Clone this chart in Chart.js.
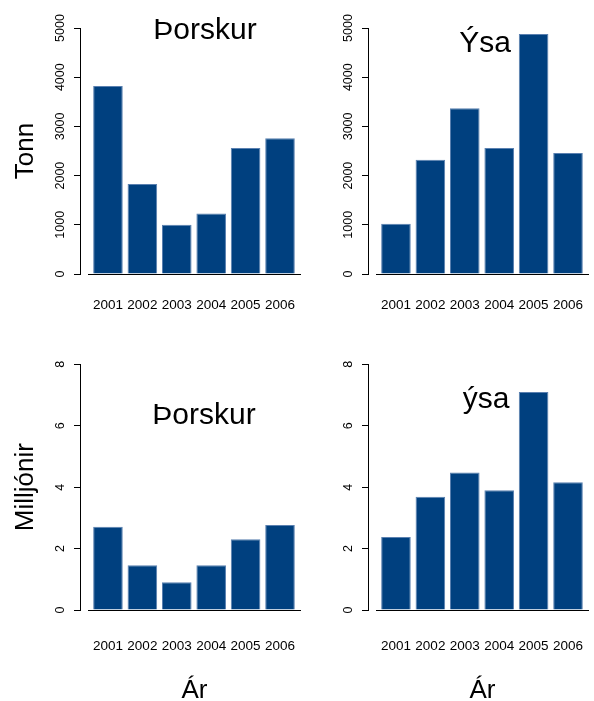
<!DOCTYPE html>
<html>
<head>
<meta charset="utf-8">
<script src="https://cdn.jsdelivr.net/npm/chart.js@4.4.1/dist/chart.umd.min.js"></script>
<style>
  body { margin: 0; width: 594px; height: 701px; overflow: hidden; background: #fff;
         font-family: "Liberation Sans", Arial, sans-serif; }
  canvas { position: absolute; }
  .fyrirsogn { position: absolute; font-size: 30px; line-height: 30px; color: #000;
               transform: translateX(-50%); white-space: nowrap; }
</style>
</head>
<body>
<canvas id="torskurTonn" width="301" height="350" style="left:0;top:0"></canvas>
<canvas id="ysaTonn" width="301" height="350" style="left:288px;top:0"></canvas>
<canvas id="torskurMillj" width="301" height="351" style="left:0;top:350px"></canvas>
<canvas id="ysaMillj" width="301" height="351" style="left:288px;top:350px"></canvas>

<div class="fyrirsogn" style="left:205px;top:14px">Þorskur</div>
<div class="fyrirsogn" style="left:485px;top:27px">Ýsa</div>
<div class="fyrirsogn" style="left:204px;top:399px">Þorskur</div>
<div class="fyrirsogn" style="left:486px;top:383px">ýsa</div>

<script>
// gögn
const ar = [2001, 2002, 2003, 2004, 2005, 2006];
const torskurTonn = [3820, 1830, 1000, 1230, 2560, 2760];
const ysaTonn = [1020, 2320, 3370, 2560, 4880, 2460];
const torskurMillj = [2.71, 1.46, 0.90, 1.46, 2.30, 2.77];
const ysaMillj = [2.38, 3.69, 4.48, 3.90, 7.10, 4.16];
const tonnTicks = [0, 1000, 2000, 3000, 4000, 5000];
const milljTicks = [0, 2, 4, 6, 8];

Chart.defaults.font.family = '"Liberation Sans", Arial, sans-serif';
Chart.defaults.color = "#000";

function teikna(id, gildi, yTicks, s) {
    const ctx = document.getElementById(id).getContext("2d");
    return new Chart(ctx, {
        type: "bar",
        data: {
            datasets: [{
                data: ar.map((a, i) => ({ x: a, y: gildi[i] })),
                backgroundColor: "#00407f",
                borderColor: "#5a80b0",
                borderWidth: 1,
                barPercentage: 0.86,
                categoryPercentage: 1,
                xAxisID: "x",
                yAxisID: "y"
            }]
        },
        options: {
            responsive: false,
            animation: false,
            layout: { padding: { top: s.top, left: 0, right: 0, bottom: 0 } },
            plugins: { legend: { display: false }, tooltip: { enabled: false } },
            scales: {
                x: {
                    type: "linear",
                    offset: false,
                    min: ar[0] - 0.58,
                    max: ar[ar.length - 1] + 0.61,
                    afterBuildTicks: sc => { sc.ticks = ar.map(v => ({ value: v })); },
                    afterFit: sc => { sc.height = s.xHeight; sc.paddingLeft = 0; sc.paddingRight = 0; },
                    grid: { display: false, drawTicks: false, offset: false },
                    border: { display: true, color: "#000", width: 1 },
                    ticks: {
                        autoSkip: false, maxRotation: 0, padding: s.xPad,
                        font: { size: 13.5 },
                        callback: v => String(v)
                    },
                    title: {
                        display: !!s.xTitle, text: s.xTitle || "",
                        font: { size: 26 }, padding: { top: 0, bottom: -5 }
                    }
                },
                // tómt bil milli y-áss og súlna
                bil: {
                    type: "linear", position: "left", weight: 0,
                    grid: { display: false }, border: { display: false },
                    ticks: { display: false },
                    afterFit: sc => { sc.width = 8; sc.paddingTop = 0; sc.paddingBottom = 0; }
                },
                y: {
                    type: "linear", position: "left", weight: 1,
                    min: 0, max: yTicks[yTicks.length - 1],
                    afterBuildTicks: sc => { sc.ticks = yTicks.map(v => ({ value: v })); },
                    afterFit: sc => { sc.width = 80; sc.paddingTop = 0; sc.paddingBottom = 0; },
                    grid: { drawOnChartArea: false, drawTicks: true, tickLength: 6, color: "#000" },
                    border: { display: true, color: "#000", width: 1 },
                    ticks: {
                        autoSkip: false, minRotation: 90, maxRotation: 90,
                        crossAlign: "center", padding: s.yPad,
                        font: { size: 12.5 },
                        callback: v => String(v)
                    },
                    title: {
                        display: !!s.yTitle, text: s.yTitle || "",
                        font: { size: 26 }, padding: { top: 10.4, bottom: 0 }
                    }
                }
            }
        }
    });
}

teikna("torskurTonn", torskurTonn, tonnTicks, { top: 28, xHeight: 76, xPad: 23.4, yPad: 0, yTitle: "Tonn" });
teikna("ysaTonn", ysaTonn, tonnTicks, { top: 28, xHeight: 76, xPad: 23.4, yPad: 0 });
teikna("torskurMillj", torskurMillj, milljTicks, { top: 14.3, xHeight: 91, xPad: 27.7, yPad: 9.7, yTitle: "Milljónir", xTitle: "Ár" });
teikna("ysaMillj", ysaMillj, milljTicks, { top: 14.3, xHeight: 91, xPad: 27.7, yPad: 9.7, xTitle: "Ár" });
</script>
</body>
</html>
